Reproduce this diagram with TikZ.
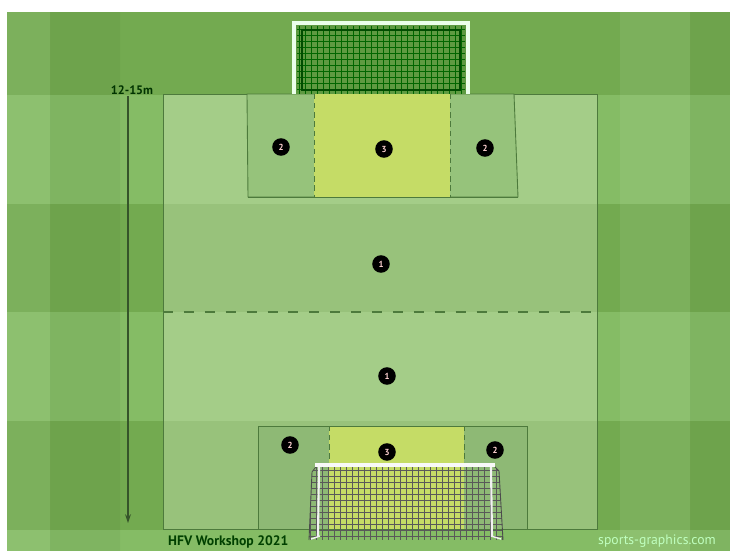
\documentclass[tikz,border=0pt]{standalone}
\usepackage{fontspec}
\setmainfont{PT Sans}
\usetikzlibrary{arrows.meta}
\definecolor{mdark}{HTML}{73AA50}
\definecolor{mlight}{HTML}{85BC65}
\definecolor{fdark}{HTML}{98C27B}
\definecolor{flight}{HTML}{A4CD88}
\definecolor{boxgreen}{HTML}{96C37B}
\definecolor{zone}{HTML}{C5DC66}
\definecolor{pitchline}{HTML}{4D7A3C}
\definecolor{netgreen}{HTML}{5E9A41}
\begin{document}
\begin{tikzpicture}[x=0.02cm, y=-0.02cm,
  player/.style={circle, fill=black, text=pink!70!white, inner sep=0pt,
    minimum size=10pt, font=\fontsize{5}{5}\selectfont\bfseries},
  zoneline/.style={draw=pitchline, line width=0.5pt},
  zonedash/.style={zoneline, dash pattern=on 3pt off 2.2pt}]
  \fill[white] (0,0) rectangle (730,551);
  \foreach \ya/\yb/\c in {12/95/mdark, 95/204/mlight, 204/312/mdark,
      312/421/mlight, 421/530/mdark, 530/551/mlight}
    \fill[\c] (7,\ya) rectangle (730,\yb);
  \fill[white, opacity=0.07] (7,12) rectangle (50,551) (620,12) rectangle (690,551);
  \fill[black, opacity=0.04] (50,12) rectangle (120,551) (690,12) rectangle (730,551);
  \foreach \ya/\yb/\c in {94/204/flight, 204/312/fdark, 312/421/flight, 421/529/fdark}
    \fill[\c] (163,\ya) rectangle (597,\yb);
  \draw[zoneline] (163,94) rectangle (597,529);
  \draw[zoneline, fill=boxgreen] (247,94) -- (514,94) -- (518,197) -- (248,197) -- cycle;
  \fill[zone] (314,94) rectangle (450,197);
  \draw[zonedash] (314,94) -- (314,197) (450,94) -- (450,197);
  \draw[zoneline] (248,197) -- (518,197);
  \draw[zoneline, fill=boxgreen!95!black] (258,426) rectangle (527,529);
  \fill[zone] (329,426) rectangle (464,529);
  \draw[zonedash] (329,426) -- (329,464) (464,426) -- (464,464);
  \draw[zoneline] (258,426) -- (527,426);
  \draw[pitchline, line width=0.6pt, dash pattern=on 5.7pt off 6.2pt] (163,312) -- (597,312);
  \fill[netgreen] (296,25) rectangle (466,94);
  \foreach \x in {299,305,...,463}
    \draw[black!60!green, line width=0.4pt] (\x,26) -- (\x,94);
  \foreach \y in {29,35,...,93}
    \draw[black!60!green, line width=0.4pt] (297,\y) -- (465,\y);
  \draw[black!70!green, line width=0.6pt] (302,30) rectangle (460,90);
  \draw[white!92!green, line width=2.8pt] (294,94) -- (294,23) -- (468,23) -- (468,94);
  \begin{scope}
    \clip (309,540) -- (312,472) -- (318,464) -- (492,464) -- (499,471) -- (503,540) -- cycle;
    \foreach \x in {310,316,...,502}
      \draw[black!65, line width=0.4pt] (\x,464) -- (\x,540);
    \foreach \y in {470,476,...,540}
      \draw[black!65, line width=0.4pt] (305,\y) -- (505,\y);
  \end{scope}
  \draw[black!70, line width=0.5pt] (309,540) -- (312,472) -- (318,464) (492,464) -- (499,471) -- (503,540);
  \draw[white!90!gray, line width=1.2pt] (319,467) -- (318,536) (491,467) -- (492,536);
  \draw[white!90!gray, line width=0.8pt] (311,539) -- (320,536) (501,539) -- (491,536);
  \draw[white!95!gray, line width=2.4pt] (315,465) -- (495,465);
  \node[player] (p2a) at (281,147) {2};
  \node[player] (p3a) at (384,149) {3};
  \node[player] (p2b) at (485,148) {2};
  \node[player] (p1a) at (381,264) {1};
  \node[player] (p1b) at (387,376) {1};
  \node[player] (p2c) at (290,445) {2};
  \node[player] (p3b) at (387,452) {3};
  \node[player] (p2d) at (495,450) {2};
  \coordinate (arrtop) at (128,96);
  \coordinate (arrbot) at (128,523);
  \draw[pitchline!70!black, line width=0.6pt, -{Stealth[length=5pt, width=3.4pt]}] (arrtop) -- (arrbot);
  \node[font=\fontsize{7}{7}\selectfont\bfseries, text=black!80!green] (dist) at (132,90) {12-15m};
  \node[font=\fontsize{7.8}{8}\selectfont\bfseries, text=black!75!green, anchor=west] (title) at (162,542) {HFV Workshop 2021};
  \node[font=\fontsize{7.8}{8}\selectfont, text=white!75!green, anchor=east] (credit) at (722,541) {sports-graphics.com};
\end{tikzpicture}
\end{document}
